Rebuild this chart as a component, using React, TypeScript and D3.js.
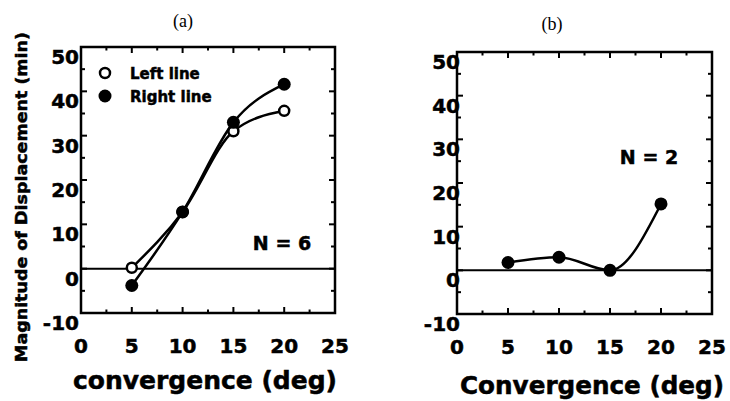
import React from "react";
import * as d3 from "d3";

// values
const convA = [5, 10, 15, 20];
const leftLine = [0.2, 12.8, 31, 35.6];
const rightLine = [-3.8, 12.8, 33, 41.6];

const convB = [5, 10, 15, 20];
const bothLines = [1.8, 3.0, 0.0, 15.2];

const xTicks = [0, 5, 10, 15, 20, 25];
const yTicks = [-10, 0, 10, 20, 30, 40, 50];

const FONT = "'DejaVu Sans', 'Liberation Sans', Arial, sans-serif";
// the print is heavier than a plain bold, so give text a thin outline
const heavy = { stroke: "#000", strokeWidth: 0.5 };

type PanelProps = {
  title: string;
  titleX: number;
  titleY: number;
  left: number;
  right: number;
  top: number;
  bottom: number;
  xLabel: string;
  xLabelX: number;
  xLabelY: number;
  labelShift: number;
  nText: string;
  nX: number;
  nY: number;
  children: (x: d3.ScaleLinear<number, number>, y: d3.ScaleLinear<number, number>) => React.ReactNode;
};

const Panel = (p: PanelProps) => {
  const x = d3.scaleLinear().domain([0, 25]).range([p.left, p.right]);
  const y = d3.scaleLinear().domain([-10, 50]).range([p.bottom, p.top]);

  const xt = d3.range(0, 25.01, 2.5);
  const yt = d3.range(-10, 50.01, 5);

  return (
    <g>
      <text x={p.titleX} y={p.titleY} textAnchor="middle"
        style={{ fontFamily: "'Liberation Serif', 'Times New Roman', serif", fontSize: 18 }}>
        {p.title}
      </text>

      {/* zero line */}
      <line x1={x(0)} x2={x(25)} y1={y(0)} y2={y(0)} stroke="#000" strokeWidth={2} />

      {/* ticks on all four sides, inward */}
      {xt.map((v, i) => {
        const len = i % 2 === 0 ? 6 : 3.5;
        return (
          <g key={"xt" + i}>
            <line x1={x(v)} x2={x(v)} y1={y(-10)} y2={y(-10) - len} stroke="#000" strokeWidth={2} />
            <line x1={x(v)} x2={x(v)} y1={y(50)} y2={y(50) + len} stroke="#000" strokeWidth={2} />
          </g>
        );
      })}
      {yt.map((v, i) => {
        const len = i % 2 === 0 ? 6 : 4;
        return (
          <g key={"yt" + i}>
            <line x1={x(0)} x2={x(0) + len} y1={y(v)} y2={y(v)} stroke="#000" strokeWidth={2} />
            <line x1={x(25)} x2={x(25) - len} y1={y(v)} y2={y(v)} stroke="#000" strokeWidth={2} />
          </g>
        );
      })}

      <rect x={x(0)} y={y(50)} width={x(25) - x(0)} height={y(-10) - y(50)}
        fill="none" stroke="#000" strokeWidth={2.5} />

      {/* y tick labels, sitting a bit below their ticks as in the print */}
      {yTicks.map(v => (
        <text key={"yl" + v} x={x(0) + p.labelShift} y={y(v) + 17} textAnchor="end" {...heavy}
          style={{ fontFamily: FONT, fontWeight: "bold", fontSize: 20 }}>
          {v}
        </text>
      ))}

      {xTicks.map(v => (
        <text key={"xl" + v} x={x(v)} y={p.bottom + 40} textAnchor="middle" {...heavy}
          style={{ fontFamily: FONT, fontWeight: "bold", fontSize: 20 }}>
          {v}
        </text>
      ))}

      <text x={p.xLabelX} y={p.xLabelY} textAnchor="middle" {...heavy}
        textLength={264} lengthAdjust="spacingAndGlyphs"
        style={{ fontFamily: FONT, fontWeight: "bold", fontSize: 24 }}>
        {p.xLabel}
      </text>

      <text x={p.nX} y={p.nY} textAnchor="middle" {...heavy}
        style={{ fontFamily: FONT, fontWeight: "bold", fontSize: 19 }}>
        {p.nText}
      </text>

      {p.children(x, y)}
    </g>
  );
};

const Series = ({ xs, ys, x, y, open }: {
  xs: number[]; ys: number[];
  x: d3.ScaleLinear<number, number>; y: d3.ScaleLinear<number, number>;
  open: boolean;
}) => {
  const line = d3.line<number>()
    .x((_, i) => x(xs[i]))
    .y(d => y(d))
    .curve(d3.curveMonotoneX);
  return (
    <g>
      <path d={line(ys) || ""} fill="none" stroke="#000" strokeWidth={2.5} />
      {ys.map((d, i) => (
        <circle key={i} cx={x(xs[i])} cy={y(d)} r={open ? 5 : 6.5}
          fill={open ? "#fff" : "#000"} stroke="#000" strokeWidth={open ? 2.5 : 0} />
      ))}
    </g>
  );
};

export default function App() {
  return (
    <svg width={730} height={401}
      style={{ position: "absolute", left: 0, top: 0, display: "block", background: "#fff" }}>
      <text transform="translate(27,197) rotate(-90)" textAnchor="middle" {...heavy}
        textLength={330} lengthAdjust="spacingAndGlyphs"
        style={{ fontFamily: FONT, fontWeight: "bold", fontSize: 16 }}>
        Magnitude of Displacement (min)
      </text>

      <Panel title="(a)" titleX={183} titleY={27}
        left={81} right={335} top={47} bottom={313}
        xLabel="convergence (deg)" xLabelX={205} xLabelY={389}
        labelShift={-2} nText="N = 6" nX={282} nY={250}>
        {(x, y) => (
          <g>
            <Series xs={convA} ys={leftLine} x={x} y={y} open={true} />
            <Series xs={convA} ys={rightLine} x={x} y={y} open={false} />
            {/* legend */}
            <circle cx={105} cy={73} r={5} fill="#fff" stroke="#000" strokeWidth={2.5} />
            <text x={130} y={79} {...heavy}
              style={{ fontFamily: FONT, fontWeight: "bold", fontSize: 15 }}>Left line</text>
            <circle cx={105} cy={96} r={6.5} fill="#000" />
            <text x={130} y={102} {...heavy}
              style={{ fontFamily: FONT, fontWeight: "bold", fontSize: 15 }}>Right line</text>
          </g>
        )}
      </Panel>

      <Panel title="(b)" titleX={552} titleY={30}
        left={457} right={712} top={52} bottom={314}
        xLabel="Convergence (deg)" xLabelX={592} xLabelY={394}
        labelShift={3} nText="N = 2" nX={649} nY={164}>
        {(x, y) => <Series xs={convB} ys={bothLines} x={x} y={y} open={false} />}
      </Panel>
    </svg>
  );
}
